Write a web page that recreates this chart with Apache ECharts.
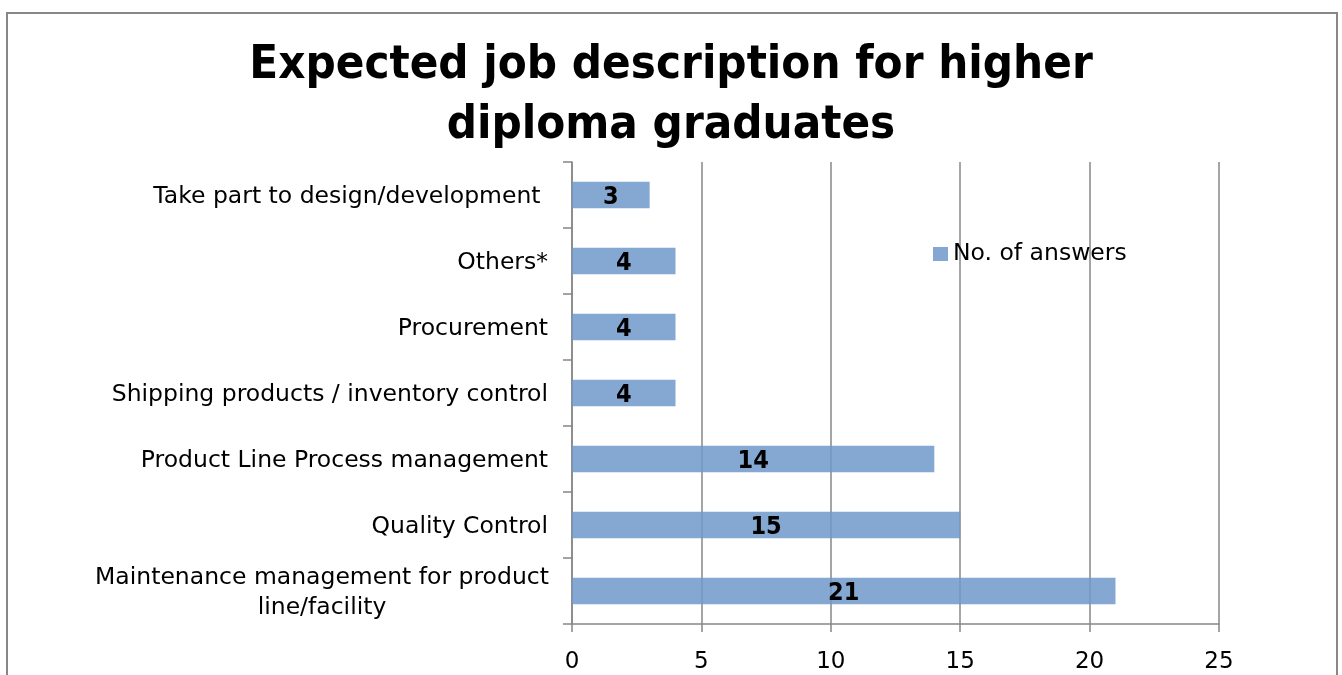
<!DOCTYPE html>
<html>
<head>
<meta charset="utf-8">
<script src="https://cdn.jsdelivr.net/npm/echarts@6/dist/echarts.min.js"></script>
<style>
  html, body { margin: 0; padding: 0; background: #fff; }
  #chart { width: 1342px; height: 675px; }
</style>
</head>
<body>
<div id="chart"></div>
<script>
// Categories listed bottom to top, as the category axis draws them
const categories = [
  'Maintenance management for product line/facility',
  'Quality Control',
  'Product Line Process management',
  'Shipping products / inventory control',
  'Procurement',
  'Others*',
  'Take part to design/development '
];
const answers = [21, 15, 14, 4, 4, 4, 3];
const seriesName = 'No. of answers';
const xTicks = { min: 0, max: 25, interval: 5 };

const FONT = 'Tahoma, Verdana, "DejaVu Sans", sans-serif';
const FONT_NARROW = '"DejaVu Sans Condensed", Tahoma, "DejaVu Sans", sans-serif';
const GRAY = '#878787';

const chart = echarts.init(document.getElementById('chart'), null, { renderer: 'canvas' });

chart.setOption({
  animation: false,
  backgroundColor: '#fff',
  title: {
    text: 'Expected job description for higher\ndiploma graduates',
    left: 'center',
    top: 31,
    textStyle: {
      fontFamily: FONT_NARROW,
      fontWeight: 'bold',
      fontSize: 47,
      lineHeight: 60,
      color: '#000'
    }
  },
  legend: {
    data: [seriesName],
    left: 928,
    top: 237,
    icon: 'rect',
    itemWidth: 15,
    itemHeight: 14,
    textStyle: { fontFamily: FONT, fontSize: 23.5, color: '#000' }
  },
  graphic: [{
    type: 'rect',
    shape: { x: 7, y: 13, width: 1330, height: 720 },
    style: { fill: 'none', stroke: GRAY, lineWidth: 2 },
    silent: true,
    z: -1
  }],
  grid: { left: 572, right: 123, top: 162, bottom: 51 },
  xAxis: {
    type: 'value',
    min: xTicks.min,
    max: xTicks.max,
    interval: xTicks.interval,
    axisLine: { show: true, lineStyle: { color: GRAY, width: 1.5 } },
    axisTick: { show: true, length: 8, lineStyle: { color: GRAY, width: 1.5 } },
    splitLine: { show: true, lineStyle: { color: GRAY, width: 1.5 } },
    axisLabel: { fontFamily: FONT, fontSize: 23, color: '#000', margin: 27 }
  },
  yAxis: {
    type: 'category',
    data: categories,
    axisLine: { show: true, lineStyle: { color: GRAY, width: 1.5 } },
    axisTick: { show: true, length: 9, lineStyle: { color: GRAY, width: 1.5 } },
    axisLabel: {
      fontFamily: FONT,
      fontSize: 23.5,
      color: '#000',
      margin: 24,
      padding: [4, 0, 0, 0],
      formatter: function (v) {
        if (v.indexOf('Maintenance') === 0) {
          return '{c|Maintenance management for product}\n{c|line/facility}';
        }
        return v;
      },
      rich: {
        c: { width: 452, align: 'center', fontFamily: FONT, fontSize: 23.5, lineHeight: 30, color: '#000' }
      }
    }
  },
  series: [{
    name: seriesName,
    type: 'bar',
    data: answers,
    barCategoryGap: '60%',
    itemStyle: { color: 'rgba(110,153,201,0.85)' },
    label: {
      show: true,
      position: 'inside',
      offset: [0, 2],
      fontFamily: FONT_NARROW,
      fontWeight: 'bold',
      fontSize: 25,
      color: '#000'
    }
  }]
});
</script>
</body>
</html>
